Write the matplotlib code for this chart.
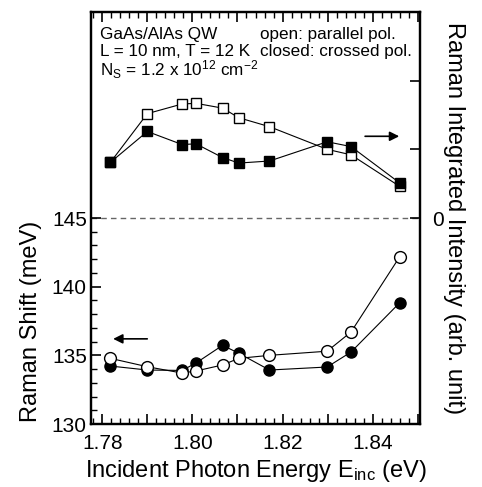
import matplotlib
matplotlib.use('Agg')
import matplotlib.pyplot as plt
from matplotlib.ticker import MultipleLocator, FixedLocator, FuncFormatter

plt.rcParams['font.family'] = ['Liberation Sans', 'DejaVu Sans']
plt.rcParams['mathtext.fontset'] = 'custom'
plt.rcParams['mathtext.rm'] = 'Liberation Sans'
plt.rcParams['mathtext.it'] = 'Liberation Sans:italic'

# incident photon energy (eV)
energy = [1.7818, 1.7900, 1.7977, 1.8008, 1.8067, 1.8103, 1.8171, 1.8299, 1.8352, 1.8460]

# Raman shift (meV), left axis
shift_open = [134.78, 134.17, 133.71, 133.86, 134.30, 134.78, 135.00, 135.30, 136.70, 142.18]
shift_closed = [134.22, 133.93, 133.90, 134.44, 135.73, 135.15, 133.93, 134.15, 135.24, 138.83]

# integrated intensity (arb. unit), right axis
int_open = [0.81, 1.52, 1.66, 1.67, 1.60, 1.46, 1.33, 1.00, 0.92, 0.46]
int_closed = [0.81, 1.26, 1.07, 1.08, 0.88, 0.80, 0.83, 1.11, 1.04, 0.51]

fig = plt.figure(figsize=(4.82, 4.87), dpi=100)
ax = fig.add_axes([91/482, 63/487, 329/482, 412/487])
ax2 = ax.twinx()

ax.set_xlim(1.7775, 1.8505)
ax.set_ylim(130, 160)
ax2.set_ylim(-3, 3)

# dashed divider
ax.axhline(145, color='#666666', lw=1.0, ls=(0, (4, 3)), zorder=1)

mk = dict(color='k', lw=0.8, markeredgecolor='k', markeredgewidth=1.0)
ax.plot(energy, shift_closed, 'o', markerfacecolor='k', markersize=8, ls='-', zorder=3, **mk)
ax.plot(energy, shift_open, 'o', markerfacecolor='white', markersize=8.5, ls='-', zorder=4, **mk)

ax2.plot(energy, int_open, 's', markerfacecolor='white', markersize=6.8, ls='-', zorder=3, **mk)
ax2.plot(energy, int_closed, 's', markerfacecolor='k', markersize=7.2, ls='-', zorder=4, **mk)

# arrows pointing at the relevant axis
ax.annotate('', xy=(1.7818, 136.2), xytext=(1.7906, 136.2),
            arrowprops=dict(arrowstyle='-|>', color='k', lw=1.2, mutation_scale=14))
ax2.annotate('', xy=(1.8465, 1.19), xytext=(1.8377, 1.19),
             arrowprops=dict(arrowstyle='-|>', color='k', lw=1.2, mutation_scale=14))

# ticks
ax.xaxis.set_major_locator(MultipleLocator(0.01))
ax.xaxis.set_minor_locator(MultipleLocator(0.002))
ax.xaxis.set_major_formatter(FuncFormatter(
    lambda v, p: '%.2f' % v if round(v * 100) % 2 == 0 else ''))
ax.yaxis.set_major_locator(FixedLocator([130, 135, 140, 145]))
ax.yaxis.set_minor_locator(FixedLocator(list(range(130, 146))))
ax2.yaxis.set_major_locator(FixedLocator([0, 1, 2]))
ax2.yaxis.set_major_formatter(FuncFormatter(lambda v, p: '0' if v == 0 else ''))

ax.tick_params(axis='x', which='both', direction='in', top=True, labelsize=15, pad=7)
ax.tick_params(axis='x', which='major', length=7, width=1.2)
ax.tick_params(axis='x', which='minor', length=4, width=1.0)
ax.tick_params(axis='y', which='major', direction='in', length=7, width=1.2, labelsize=15, pad=3)
ax.tick_params(axis='y', which='minor', direction='in', length=4, width=1.0)
ax2.tick_params(axis='y', which='major', direction='in', length=7, width=1.2, labelsize=15, pad=9)

for a in (ax, ax2):
    for s in a.spines.values():
        s.set_linewidth(1.6)

ax.set_xlabel(r'Incident Photon Energy E$_{\mathregular{inc}}$ (eV)', fontsize=17)
ax.set_ylabel('Raman Shift (meV)', fontsize=17)
ax.yaxis.set_label_coords(-0.15, 0.25)
ax2.set_ylabel('Raman Integrated Intensity (arb. unit)', fontsize=17, rotation=270, va='bottom')
ax2.yaxis.set_label_coords(1.07, 0.5)

# sample info
fs = 12.3
tx = 0.027
ax.text(tx, 0.946, 'GaAs/AlAs QW', transform=ax.transAxes, fontsize=fs, va='center')
ax.text(tx, 0.904, 'L = 10 nm, T = 12 K', transform=ax.transAxes, fontsize=fs, va='center')
ax.text(tx, 0.860, r'N$_\mathregular{S}$ = 1.2 x 10$^{\mathregular{12}}$ cm$^{\mathregular{-2}}$',
        transform=ax.transAxes, fontsize=fs, va='center')
ax.text(0.513, 0.946, 'open: parallel pol.', transform=ax.transAxes, fontsize=fs, va='center')
ax.text(0.513, 0.904, 'closed: crossed pol.', transform=ax.transAxes, fontsize=fs, va='center')

fig.savefig('out.png', dpi=100)
